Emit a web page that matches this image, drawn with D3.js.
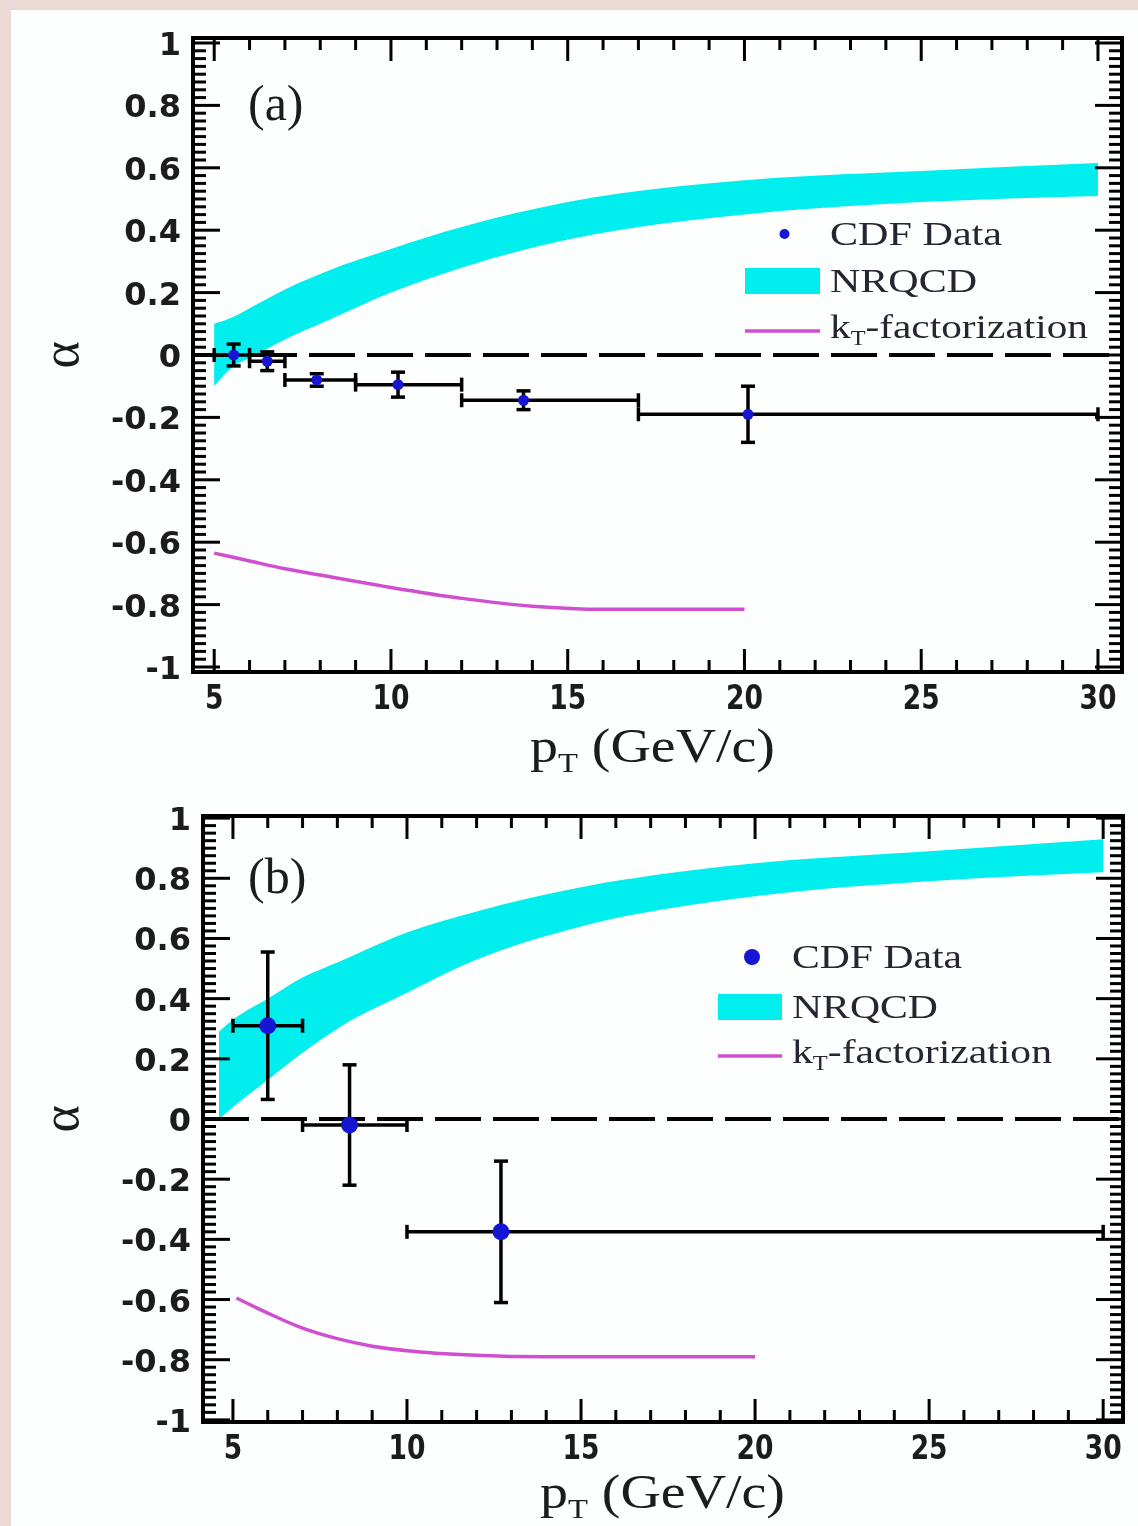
<!DOCTYPE html>
<html>
<head>
<meta charset="utf-8">
<script src="https://cdn.jsdelivr.net/npm/d3@7"></script>
<style>
  body { margin: 0; background: #ffffff; }
  svg { display: block; }
</style>
</head>
<body>
<script>
(function(){

    //panel (a) CDF data points
    var ptA = [5.55, 6.5, 7.9, 10.2, 13.75, 20.1];
    var ptLoA = [5, 6, 7, 9, 12, 17];
    var ptHiA = [6, 7, 9, 12, 17, 30];
    var alphaA = [0.0, -0.02, -0.08, -0.095, -0.145, -0.19];
    var errA = [0.035, 0.03, 0.02, 0.04, 0.03, 0.09];

    //panel (a) NRQCD band and kT-factorization curve
    var nrqcdPtA = [5, 5.5, 6, 7, 8, 10, 12, 15, 20, 25, 30];
    var nrqcdHiA = [0.10, 0.12, 0.15, 0.21, 0.26, 0.34, 0.41, 0.49, 0.56, 0.59, 0.615];
    var nrqcdLoA = [-0.10, -0.04, -0.01, 0.05, 0.10, 0.20, 0.28, 0.37, 0.45, 0.49, 0.51];
    var ktPtA = [5, 6, 7, 8, 10, 12, 14, 16, 18, 20];
    var ktAlphaA = [-0.635, -0.66, -0.685, -0.705, -0.745, -0.78, -0.805, -0.815, -0.815, -0.815];

    //panel (b) CDF data points
    var ptB = [6.0, 8.35, 12.7];
    var ptLoB = [5, 7, 10];
    var ptHiB = [7, 10, 30];
    var alphaB = [0.31, -0.02, -0.375];
    var errB = [0.245, 0.2, 0.235];

    //panel (b) NRQCD band and kT-factorization curve
    var nrqcdPtB = [4.6, 5, 6, 7, 8, 10, 12, 15, 20, 25, 30];
    var nrqcdHiB = [0.29, 0.33, 0.40, 0.47, 0.52, 0.62, 0.69, 0.77, 0.85, 0.89, 0.93];
    var nrqcdLoB = [0.0, 0.04, 0.13, 0.22, 0.30, 0.42, 0.53, 0.64, 0.74, 0.79, 0.82];
    var ktPtB = [5.1, 6, 7, 8, 9, 10, 12, 14, 17, 20];
    var ktAlphaB = [-0.595, -0.645, -0.695, -0.73, -0.755, -0.77, -0.785, -0.79, -0.79, -0.79];

    //axis ticks
    var xTickVals = [5, 10, 15, 20, 25, 30];
    var yTickVals = [1, 0.8, 0.6, 0.4, 0.2, 0, -0.2, -0.4, -0.6, -0.8, -1];
    var legendLabels = ["CDF Data", "NRQCD", "-factorization"];

    var width = 1138,
        height = 1526;

    var svg = d3.select("body")
        .append("svg")
        .attr("width", width)
        .attr("height", height);

    //slight blur like the scanned figure
    var defs = svg.append("defs");
    defs.append("filter")
        .attr("id", "soft")
        .append("feGaussianBlur")
        .attr("stdDeviation", 0.6);

    //pinkish page edge
    svg.append("rect")
        .attr("width", width).attr("height", height)
        .attr("fill", "#ead9d4");
    svg.append("rect")
        .attr("x", 11).attr("y", 10)
        .attr("width", width - 11).attr("height", height - 10)
        .attr("fill", "#fdfefe");

    var root = svg.append("g").attr("filter", "url(#soft)");

    drawPanel({
        id: "a", label: "(a)",
        left: 193, right: 1122, top: 38, bottom: 672,
        xDomain: [4.4, 30.68], yDomain: [-1.016, 1.016],
        pt: ptA, ptLo: ptLoA, ptHi: ptHiA, alpha: alphaA, err: errA, r: 5.5,
        bandPt: nrqcdPtA, bandHi: nrqcdHiA, bandLo: nrqcdLoA,
        ktPt: ktPtA, ktAlpha: ktAlphaA,
        legX: 745, legY: [234, 281, 327], legW: 75, legTextX: 830,
        legLen: [172, 147, 242], legR: 5,
        labelY: 120, titleY: 762, titleX: 530
    });

    drawPanel({
        id: "b", label: "(b)",
        left: 203, right: 1123, top: 816, bottom: 1422,
        xDomain: [4.14, 30.57], yDomain: [-1.007, 1.007],
        pt: ptB, ptLo: ptLoB, ptHi: ptHiB, alpha: alphaB, err: errB, r: 8.5,
        bandPt: nrqcdPtB, bandHi: nrqcdHiB, bandLo: nrqcdLoB,
        ktPt: ktPtB, ktAlpha: ktAlphaB,
        legX: 718, legY: [957, 1007, 1052], legW: 64, legTextX: 792,
        legLen: [170, 146, 244], legR: 8,
        labelY: 893, titleY: 1508, titleX: 540
    });

function drawPanel(c){
    var g = root.append("g");

    var x = d3.scaleLinear().domain(c.xDomain).range([c.left, c.right]);
    var y = d3.scaleLinear().domain(c.yDomain).range([c.bottom, c.top]);

    //clip to the frame
    defs.append("clipPath")
        .attr("id", "clip" + c.id)
        .append("rect")
        .attr("x", c.left).attr("y", c.top)
        .attr("width", c.right - c.left).attr("height", c.bottom - c.top);

    var plot = g.append("g").attr("clip-path", "url(#clip" + c.id + ")");

    //NRQCD band
    var band = c.bandPt.map(function(p, i){ return [p, c.bandLo[i], c.bandHi[i]]; });
    var area = d3.area()
        .x(function(d){ return x(d[0]); })
        .y0(function(d){ return y(d[1]); })
        .y1(function(d){ return y(d[2]); })
        .curve(d3.curveMonotoneX);
    plot.append("path")
        .datum(band)
        .attr("d", area)
        .attr("fill", "#00eeee");

    //zero line
    plot.append("line")
        .attr("x1", c.left).attr("x2", c.right)
        .attr("y1", y(0)).attr("y2", y(0))
        .attr("stroke", "#000")
        .attr("stroke-width", 4)
        .attr("stroke-dasharray", "46,12");

    //kT-factorization curve
    var kt = c.ktPt.map(function(p, i){ return [p, c.ktAlpha[i]]; });
    var line = d3.line()
        .x(function(d){ return x(d[0]); })
        .y(function(d){ return y(d[1]); })
        .curve(d3.curveMonotoneX);
    plot.append("path")
        .datum(kt)
        .attr("d", line)
        .attr("fill", "none")
        .attr("stroke", "#d04fd0")
        .attr("stroke-width", 3.5);

    //data points with error bars
    var pts = c.pt.map(function(p, i){
        return {pt: p, lo: c.ptLo[i], hi: c.ptHi[i], a: c.alpha[i], e: c.err[i]};
    });
    var bars = plot.selectAll(".bar" + c.id)
        .data(pts)
        .enter()
        .append("g");
    bars.append("line")
        .attr("x1", function(d){ return x(d.lo); })
        .attr("x2", function(d){ return x(d.hi); })
        .attr("y1", function(d){ return y(d.a); })
        .attr("y2", function(d){ return y(d.a); })
        .attr("stroke", "#000").attr("stroke-width", 3.5);
    bars.append("line")
        .attr("x1", function(d){ return x(d.pt); })
        .attr("x2", function(d){ return x(d.pt); })
        .attr("y1", function(d){ return y(d.a + d.e); })
        .attr("y2", function(d){ return y(d.a - d.e); })
        .attr("stroke", "#000").attr("stroke-width", 3.5);
    //caps
    ["lo", "hi"].forEach(function(k){
        bars.append("line")
            .attr("x1", function(d){ return x(d[k]); })
            .attr("x2", function(d){ return x(d[k]); })
            .attr("y1", function(d){ return y(d.a) - 7; })
            .attr("y2", function(d){ return y(d.a) + 7; })
            .attr("stroke", "#000").attr("stroke-width", 3.5);
    });
    [1, -1].forEach(function(s){
        bars.append("line")
            .attr("x1", function(d){ return x(d.pt) - 7; })
            .attr("x2", function(d){ return x(d.pt) + 7; })
            .attr("y1", function(d){ return y(d.a + s * d.e); })
            .attr("y2", function(d){ return y(d.a + s * d.e); })
            .attr("stroke", "#000").attr("stroke-width", 3.5);
    });
    bars.append("circle")
        .attr("cx", function(d){ return x(d.pt); })
        .attr("cy", function(d){ return y(d.a); })
        .attr("r", c.r)
        .attr("fill", "#1414d2");

    //frame
    g.append("rect")
        .attr("x", c.left).attr("y", c.top)
        .attr("width", c.right - c.left).attr("height", c.bottom - c.top)
        .attr("fill", "none")
        .attr("stroke", "#000")
        .attr("stroke-width", 4);

    //x ticks, bottom and top
    var xMinor = d3.range(5, 31, 1);
    xMinor.forEach(function(v){
        var len = (v % 5 === 0) ? 23 : 12;
        g.append("line")
            .attr("x1", x(v)).attr("x2", x(v))
            .attr("y1", c.bottom).attr("y2", c.bottom - len)
            .attr("stroke", "#000").attr("stroke-width", 3);
        g.append("line")
            .attr("x1", x(v)).attr("x2", x(v))
            .attr("y1", c.top).attr("y2", c.top + len)
            .attr("stroke", "#000").attr("stroke-width", 3);
    });

    //y ticks, left and right
    var yMinor = d3.range(-40, 41, 1).map(function(v){ return v * 0.025; });
    yMinor.forEach(function(v, i){
        var len = (i % 8 === 0) ? 27 : 13;
        g.append("line")
            .attr("x1", c.left).attr("x2", c.left + len)
            .attr("y1", y(v)).attr("y2", y(v))
            .attr("stroke", "#000").attr("stroke-width", 3);
        g.append("line")
            .attr("x1", c.right).attr("x2", c.right - len)
            .attr("y1", y(v)).attr("y2", y(v))
            .attr("stroke", "#000").attr("stroke-width", 3);
    });

    //y tick labels (plain hyphen minus like the original)
    g.selectAll(".ylab" + c.id)
        .data(yTickVals)
        .enter()
        .append("text")
        .attr("x", c.left - 12)
        .attr("y", function(d){ return y(d) + 12; })
        .attr("text-anchor", "end")
        .attr("font-family", "DejaVu Sans")
        .attr("font-weight", "bold")
        .attr("font-size", 32)
        .attr("fill", "#1c1c1c")
        .text(function(d){ return String(d); });

    //x tick labels
    g.selectAll(".xlab" + c.id)
        .data(xTickVals)
        .enter()
        .append("text")
        .attr("transform", function(d){
            return "translate(" + x(d) + "," + (c.bottom + 37) + ") scale(0.78,1)";
        })
        .attr("text-anchor", "middle")
        .attr("font-family", "DejaVu Sans")
        .attr("font-weight", "bold")
        .attr("font-size", 34)
        .attr("fill", "#1c1c1c")
        .text(function(d){ return d; });

    //x axis title
    var title = g.append("text")
        .attr("x", c.titleX)
        .attr("y", c.titleY)
        .attr("font-family", "Liberation Serif")
        .attr("font-size", 48)
        .attr("fill", "#1c1c1c")
        .attr("textLength", 245)
        .attr("lengthAdjust", "spacingAndGlyphs");
    title.append("tspan").text("p");
    title.append("tspan").attr("font-size", 28).attr("dy", 10).text("T");
    title.append("tspan").attr("dy", -10).text(" (GeV/c)");

    //y axis title
    g.append("text")
        .attr("transform", "translate(78," + y(0) + ") rotate(-90)")
        .attr("text-anchor", "middle")
        .attr("font-family", "Liberation Serif")
        .attr("font-size", 52)
        .attr("fill", "#1c1c1c")
        .text("\u03b1");

    //panel label
    g.append("text")
        .attr("x", 248)
        .attr("y", c.labelY)
        .attr("font-family", "Liberation Serif")
        .attr("font-size", 50)
        .attr("fill", "#1c1c1c")
        .text(c.label);

    //legend
    var leg = g.append("g");
    leg.append("circle")
        .attr("cx", c.legX + c.legW / 2 + 2)
        .attr("cy", c.legY[0])
        .attr("r", c.legR)
        .attr("fill", "#1414d2");
    leg.append("rect")
        .attr("x", c.legX).attr("y", c.legY[1] - 13)
        .attr("width", c.legW).attr("height", 26)
        .attr("fill", "#00eeee");
    leg.append("line")
        .attr("x1", c.legX).attr("x2", c.legX + c.legW)
        .attr("y1", c.legY[2] + 4).attr("y2", c.legY[2] + 4)
        .attr("stroke", "#d04fd0").attr("stroke-width", 3.5);

    legendLabels.forEach(function(lab, i){
        var t = leg.append("text")
            .attr("x", c.legTextX)
            .attr("y", c.legY[i] + 11)
            .attr("font-family", "Liberation Serif")
            .attr("font-size", 34)
            .attr("fill", "#262630");
        if (i === 2){
            t.append("tspan").text("k");
            t.append("tspan").attr("font-size", 20).attr("dy", 7).text("T");
            t.append("tspan").attr("dy", -7).text(lab);
            t.attr("textLength", c.legLen[i] + 16).attr("lengthAdjust", "spacingAndGlyphs");
        } else {
            t.text(lab)
                .attr("textLength", c.legLen[i])
                .attr("lengthAdjust", "spacingAndGlyphs");
        }
    });
};

})();
</script>
</body>
</html>
